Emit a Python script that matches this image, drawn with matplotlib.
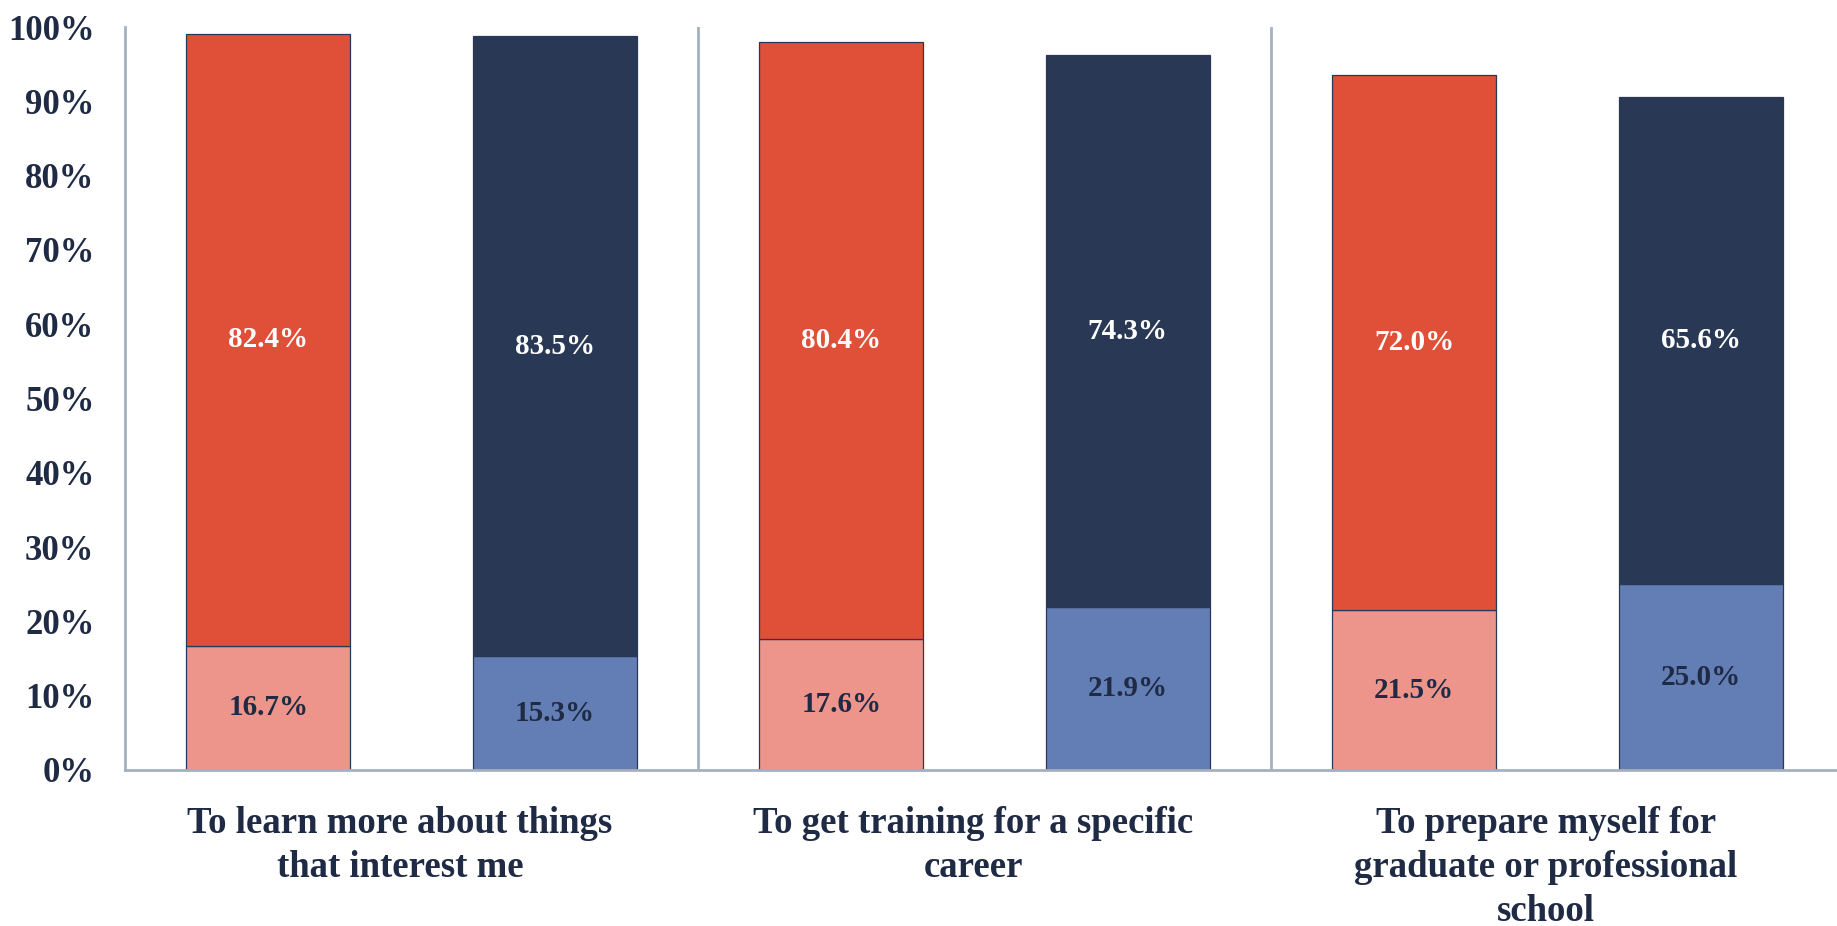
import matplotlib.pyplot as plt

# --- data ---
categories = [
    "To learn more about things\nthat interest me",
    "To get training for a specific\ncareer",
    "To prepare myself for\ngraduate or professional\nschool",
]
red_low = [16.7, 17.6, 21.5]     # light red segment
red_high = [82.4, 80.4, 72.0]    # red segment
blue_low = [15.3, 21.9, 25.0]    # light blue segment
blue_high = [83.5, 74.3, 65.6]   # dark blue segment
y_ticks = [0, 10, 20, 30, 40, 50, 60, 70, 80, 90, 100]

RED = "#E04F37"
RED_LIGHT = "#ED958A"
NAVY = "#283855"
BLUE_LIGHT = "#627EB4"
TEXT = "#1F2A44"
GRID = "#A6B0BE"
FONT = "Liberation Serif"

plt.rcParams["font.family"] = FONT

fig = plt.figure(figsize=(18.37, 9.26), dpi=100)
ax = fig.add_axes([125 / 1837, 156 / 926, 1 - 125 / 1837, 743 / 926])

n = len(categories)
width = 0.286
x_red = [i + 0.25 for i in range(n)]
x_blue = [i + 0.75 for i in range(n)]

edge = dict(edgecolor=NAVY, linewidth=0.9)
ax.bar(x_red, red_low, width, color=RED_LIGHT, **edge)
ax.bar(x_red, red_high, width, bottom=red_low, color=RED, **edge)
ax.bar(x_blue, blue_low, width, color=BLUE_LIGHT, **edge)
ax.bar(x_blue, blue_high, width, bottom=blue_low, color=NAVY, **edge)

# segment labels
for xs, low, high in [(x_red, red_low, red_high), (x_blue, blue_low, blue_high)]:
    for x, lo, hi in zip(xs, low, high):
        ax.text(x, lo / 2, f"{lo:.1f}%", ha="center", va="center",
                color=TEXT, fontsize=21, fontweight="bold")
        ax.text(x, lo + hi / 2, f"{hi:.1f}%", ha="center", va="center",
                color="white", fontsize=21, fontweight="bold")

# category separators
for i in range(1, n):
    ax.axvline(i, ymin=0, ymax=1, color=GRID, linewidth=2, zorder=0)

ax.set_xlim(0, (1837 - 125) / 573)
ax.set_ylim(0, 100)

ax.set_yticks(y_ticks)
ax.set_yticklabels([f"{t}%" for t in y_ticks], fontsize=25, fontweight="bold", color=TEXT)
ax.tick_params(axis="y", length=0, pad=22)

ax.set_xticks([i + 0.48 for i in range(n)])
ax.set_xticklabels(categories, fontsize=26.5, fontweight="bold", color=TEXT, linespacing=1.33)
ax.tick_params(axis="x", length=0, pad=26)

for side in ["top", "right"]:
    ax.spines[side].set_visible(False)
for side in ["left", "bottom"]:
    ax.spines[side].set_color(GRID)
    ax.spines[side].set_linewidth(2)

fig.savefig("out.png", dpi=100)
